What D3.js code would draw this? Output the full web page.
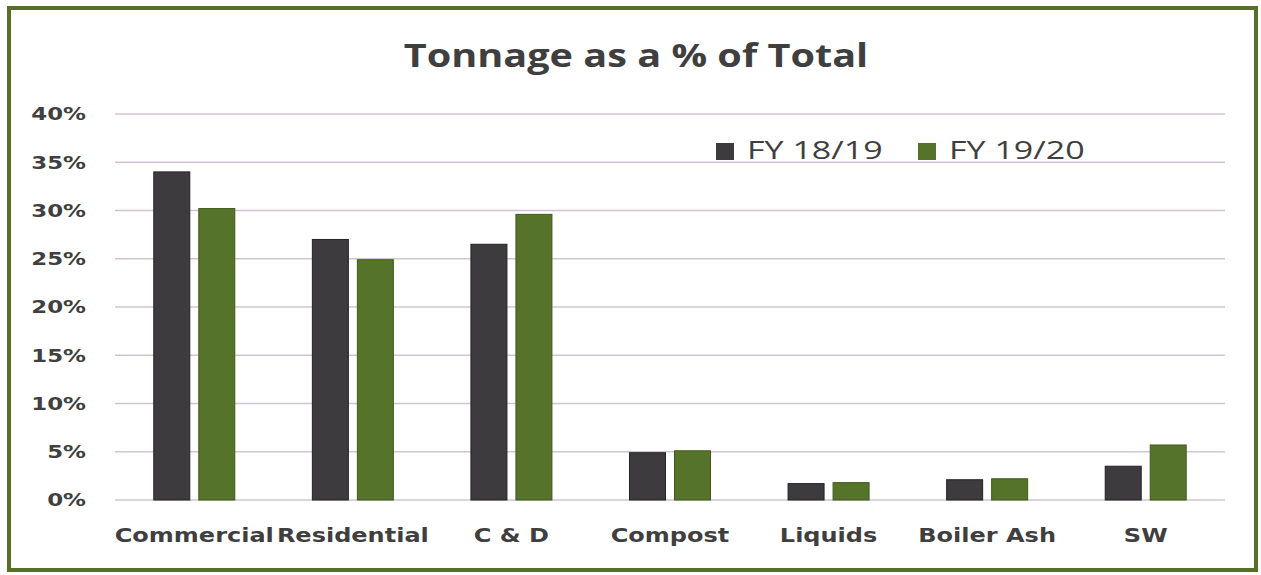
<!DOCTYPE html>
<html>
<head>
<meta charset="utf-8">
<script src="https://cdn.jsdelivr.net/npm/d3@7"></script>
<style>
  body { margin: 0; background: #fff; }
</style>
</head>
<body>
<svg id="chart" width="1261" height="575"></svg>
<script>
  // chart data
  var categories = ['Commercial', 'Residential', 'C & D', 'Compost', 'Liquids', 'Boiler Ash', 'SW'];
  var seriesNames = ['FY 18/19', 'FY 19/20'];
  var fy1819 = [0.340, 0.270, 0.265, 0.049, 0.017, 0.021, 0.035];
  var fy1920 = [0.302, 0.249, 0.296, 0.051, 0.018, 0.022, 0.057];
  var yTicks = [0, 0.05, 0.10, 0.15, 0.20, 0.25, 0.30, 0.35, 0.40];

  var colors = ['#3d3b3e', '#56732a'];
  var strokes = ['#232224', '#3f5a1c'];
  var textColor = '#3f3f3f';

  var svg = d3.select('#chart');

  // the scanned chart has wide lettering, so stretch text horizontally
  function stretch(sel, k) {
    sel.each(function() {
      var w = this.getComputedTextLength();
      d3.select(this)
        .attr('textLength', w * k)
        .attr('lengthAdjust', 'spacingAndGlyphs');
    });
  }

  // frame
  svg.append('rect')
    .attr('x', 9).attr('y', 8)
    .attr('width', 1247).attr('height', 562)
    .attr('fill', '#fff')
    .attr('stroke', '#56702a')
    .attr('stroke-width', 4);

  var plot = { left: 115, right: 1225, top: 114, bottom: 500 };

  var x = d3.scaleBand()
    .domain(categories)
    .range([plot.left, plot.right]);

  var y = d3.scaleLinear()
    .domain([0, 0.4])
    .range([plot.bottom, plot.top]);

  var barW = 36, barGap = 9;

  // title
  var title = svg.append('text')
    .attr('x', 636).attr('y', 67)
    .attr('text-anchor', 'middle')
    .style('font-family', '"Open Sans", sans-serif')
    .style('font-size', '33px')
    .style('font-weight', 'bold')
    .attr('fill', textColor)
    .text('Tonnage as a % of Total');
  stretch(title, 1.2);

  // gridlines
  svg.append('g')
    .selectAll('line')
    .data(yTicks)
    .enter().append('line')
    .attr('x1', plot.left).attr('x2', plot.right)
    .attr('y1', function(d) { return y(d); })
    .attr('y2', function(d) { return y(d); })
    .attr('stroke', '#cfc4d6')
    .attr('stroke-width', 1.5);

  // y axis
  var yAxis = d3.axisLeft(y)
    .tickValues(yTicks)
    .tickFormat(d3.format('.0%'))
    .tickSize(0)
    .tickPadding(0);

  var gy = svg.append('g')
    .attr('transform', 'translate(86,0)')
    .call(yAxis);
  gy.select('.domain').remove();
  gy.selectAll('text')
    .style('font-family', '"DejaVu Sans", sans-serif')
    .style('font-size', '18px')
    .style('font-weight', 'bold')
    .attr('fill', textColor);
  stretch(gy.selectAll('text'), 1.27);

  // bars
  var series = [fy1819, fy1920];
  series.forEach(function(vals, si) {
    svg.append('g')
      .selectAll('rect')
      .data(vals)
      .enter().append('rect')
      .attr('x', function(d, i) {
        var c = x(categories[i]) + x.bandwidth() / 2;
        return si === 0 ? c - barGap / 2 - barW : c + barGap / 2;
      })
      .attr('y', function(d) { return y(d); })
      .attr('width', barW)
      .attr('height', function(d) { return y(0) - y(d); })
      .attr('fill', colors[si])
      .attr('stroke', strokes[si])
      .attr('stroke-width', 1);
  });

  // x axis labels
  var xAxis = d3.axisBottom(x).tickSize(0).tickPadding(0);
  var gx = svg.append('g')
    .attr('transform', 'translate(0,' + (plot.bottom + 42) + ')')
    .call(xAxis);
  gx.select('.domain').remove();
  gx.selectAll('text')
    .style('font-family', '"DejaVu Sans", sans-serif')
    .style('font-size', '20px')
    .style('font-weight', 'bold')
    .attr('fill', textColor)
    .attr('dy', null);
  stretch(gx.selectAll('text'), 1.2);

  // legend
  var legendX = [716, 918];
  var legend = svg.append('g');
  seriesNames.forEach(function(name, i) {
    legend.append('rect')
      .attr('x', legendX[i]).attr('y', 143)
      .attr('width', 18).attr('height', 17)
      .attr('fill', colors[i]);
    var t = legend.append('text')
      .attr('x', legendX[i] + 31).attr('y', 159)
      .style('font-family', '"Open Sans", sans-serif')
      .style('font-size', '25px')
      .attr('fill', textColor)
      .text(name);
    stretch(t, 1.36);
  });
</script>
</body>
</html>
